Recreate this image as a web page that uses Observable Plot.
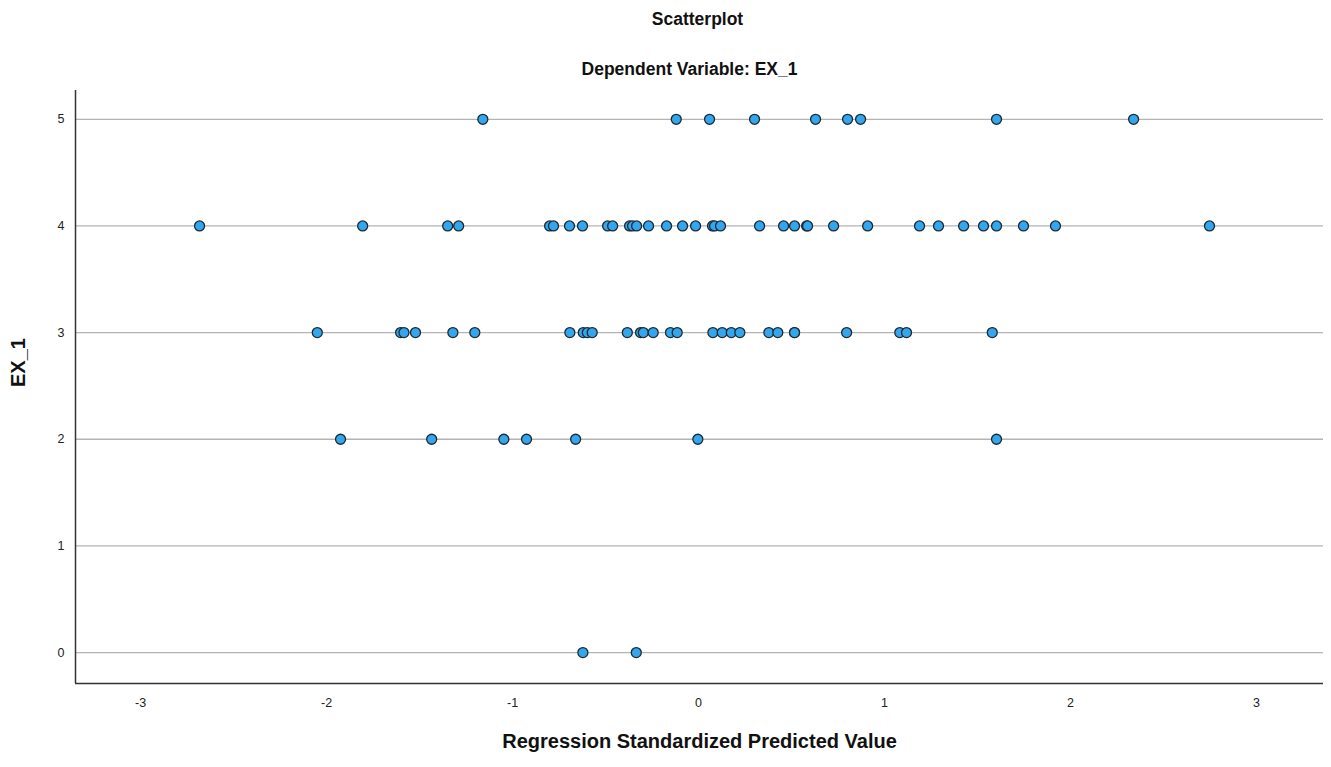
<!DOCTYPE html>
<html>
<head>
<meta charset="utf-8">
<script src="https://cdn.jsdelivr.net/npm/d3@7"></script>
<script src="https://cdn.jsdelivr.net/npm/@observablehq/plot@0.6"></script>
<style>
  html, body { margin: 0; padding: 0; background: #fff; }
  #wrap { position: relative; width: 1331px; height: 767px; font-family: "Liberation Sans", Arial, sans-serif; color: #111; }
  .ttl { position: absolute; left: 0; width: 1331px; text-align: center; font-weight: bold; font-size: 17.5px; }
  #chart { position: absolute; left: 0; top: 88px; }
</style>
</head>
<body>
<div id="wrap">
  <div class="ttl" id="t1" style="top:9px; left:32px;"></div>
  <div class="ttl" id="t2" style="top:59px; left:24px;"></div>
  <div id="chart"></div>
</div>
<script>
const titleText = "Scatterplot";
const subtitleText = "Dependent Variable: EX_1";
const xLabel = "Regression Standardized Predicted Value";
const yLabel = "EX_1";

const xTicks = [-3, -2, -1, 0, 1, 2, 3];
const yTicks = [0, 1, 2, 3, 4, 5];
const xDomain = [-3.35, 3.36];
const yDomain = [-0.29, 5.27];

// Regression standardized predicted values, grouped by observed EX_1
const predEx5 = [-1.160, -0.120, 0.059, 0.301, 0.629, 0.801, 0.871, 1.602, 2.339];
const predEx4 = [-2.683, -1.806, -1.349, -1.290, -0.801, -0.780, -0.694, -0.624, -0.489, -0.462,
                 -0.371, -0.355, -0.333, -0.269, -0.172, -0.086, -0.016, 0.075, 0.086, 0.118,
                 0.328, 0.457, 0.516, 0.581, 0.586, 0.726, 0.909, 1.188, 1.290, 1.425,
                 1.532, 1.602, 1.747, 1.919, 2.747];
const predEx3 = [-2.050, -1.602, -1.584, -1.522, -1.321, -1.203, -0.692, -0.620, -0.598, -0.572,
                 -0.383, -0.312, -0.297, -0.244, -0.151, -0.115, 0.077, 0.127, 0.176, 0.222,
                 0.378, 0.426, 0.516, 0.516, 0.796, 1.082, 1.118, 1.579];
const predEx2 = [-1.925, -1.435, -1.047, -0.925, -0.661, -0.004, 1.602];
const predEx1 = [];
const predEx0 = [-0.622, -0.335];

const groups = [[5, predEx5], [4, predEx4], [3, predEx3], [2, predEx2], [1, predEx1], [0, predEx0]];
const points = groups.flatMap(([ex, arr]) => arr.map(v => ({pred: v, ex})));

document.getElementById("t1").textContent = titleText;
document.getElementById("t2").textContent = subtitleText;

const chart = Plot.plot({
  width: 1331,
  height: 679,
  marginLeft: 75,
  marginRight: 8,
  marginTop: 2,
  marginBottom: 84,
  style: { fontFamily: "'Liberation Sans', Arial, sans-serif", fontSize: "12.5px", color: "#222", background: "#fff" },
  x: { domain: xDomain, ticks: xTicks },
  y: { domain: yDomain, ticks: yTicks },
  marks: [
    Plot.ruleY(yTicks, { stroke: "#b4b4b4", strokeWidth: 1.3 }),
    Plot.axisX({ ticks: xTicks, tickSize: 0, tickPadding: 15, label: null, tickFormat: d => String(d) }),
    Plot.axisY({ ticks: yTicks, tickSize: 0, tickPadding: 11, label: null, tickFormat: d => String(d) }),
    Plot.ruleX([xDomain[0]], { stroke: "#333", strokeWidth: 1.5 }),
    Plot.ruleY([yDomain[0]], { stroke: "#333", strokeWidth: 1.5 }),
    Plot.dot(points, { x: "pred", y: "ex", r: 5, fill: "#33a6ee", stroke: "#1d2a33", strokeWidth: 1.3, fillOpacity: 1 }),
    Plot.text([xLabel], { text: d => d, frameAnchor: "bottom", dy: 64, dx: 0, fontSize: 20, fontWeight: "bold", fill: "#111" }),
    Plot.text([yLabel], { text: d => d, frameAnchor: "left", dx: -57, dy: 0, rotate: -90, fontSize: 20, fontWeight: "bold", fill: "#111" })
  ]
});
document.getElementById("chart").appendChild(chart);
</script>
</body>
</html>
